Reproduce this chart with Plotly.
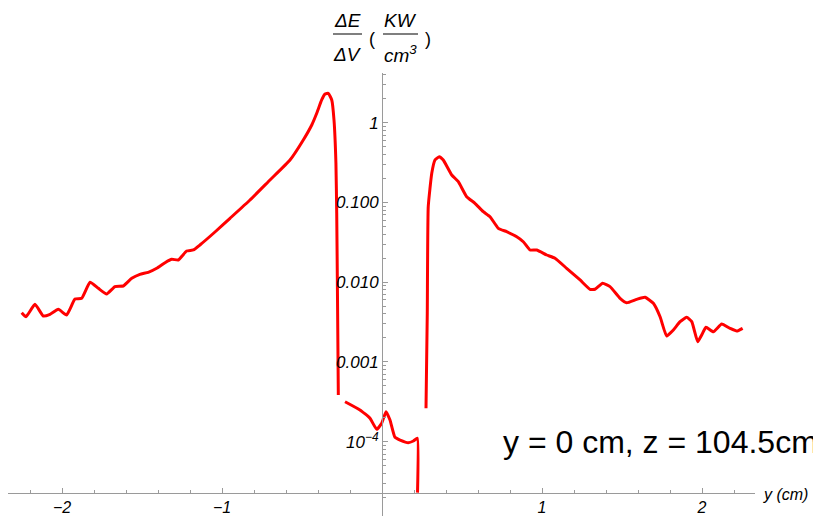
import plotly.graph_objects as go

# ---- data ----
left_x = [-2.252, -2.225, -2.169, -2.117, -2.075, -2.023, -1.971, -1.919, -1.877, -1.825,
          -1.773, -1.721, -1.669, -1.617, -1.564, -1.513, -1.461, -1.408, -1.356, -1.314,
          -1.273, -1.221, -1.179, -1.138, -1.044, -0.950, -0.825, -0.700, -0.575, -0.492,
          -0.439, -0.408, -0.377, -0.356, -0.336, -0.314, -0.300, -0.288, -0.283, -0.278, -0.273]
left_y = [0.00415, 0.00369, 0.00528, 0.00377, 0.00396, 0.00457, 0.00388, 0.00615, 0.00628, 0.00997,
          0.00838, 0.00711, 0.00879, 0.00896, 0.01119, 0.01256, 0.0133, 0.01494, 0.01757, 0.01937,
          0.01899, 0.0246, 0.02535, 0.0293, 0.0426, 0.0633, 0.1074, 0.1912, 0.3406, 0.6068,
          0.936, 1.312, 1.927, 2.29, 2.338, 1.927, 1.081, 0.3124, 0.0738, 0.00598, 0.000385]

mid_x = [-0.231, -0.138, -0.075, -0.033, -0.002, 0.025, 0.050, 0.081, 0.113, 0.164, 0.196, 0.221, 0.222]
mid_y = [3.17e-4, 2.50e-4, 1.965e-4, 1.43e-4, 1.70e-4, 2.377e-4, 1.871e-4, 1.135e-4, 1.05e-4,
         9.72e-5, 1.02e-4, 1.104e-4, 2.3e-5]

right_x = [0.275, 0.283, 0.289, 0.311, 0.331, 0.358, 0.383, 0.436, 0.477, 0.529,
           0.581, 0.633, 0.675, 0.727, 0.779, 0.842, 0.883, 0.925, 0.967, 1.029,
           1.081, 1.154, 1.238, 1.300, 1.331, 1.379, 1.425, 1.488, 1.529, 1.592,
           1.644, 1.696, 1.738, 1.779, 1.821, 1.863, 1.904, 1.936, 1.973, 1.998,
           2.025, 2.071, 2.123, 2.175, 2.217, 2.254]
right_y = [2.62e-4, 4.11e-3, 0.0885, 0.232, 0.3406, 0.375, 0.3406, 0.221, 0.182, 0.118,
           0.0976, 0.0766, 0.0663, 0.0474, 0.043, 0.0372, 0.0322, 0.02535, 0.02535, 0.02193,
           0.01995, 0.01494, 0.01066, 0.00815, 0.00815, 0.00969, 0.00879, 0.00628, 0.00553, 0.0061,
           0.00647, 0.00544, 0.00369, 0.00211, 0.00252, 0.0032, 0.00363, 0.0032, 0.00179, 0.00218,
           0.00272, 0.00239, 0.00299, 0.00264, 0.00244, 0.00264]

x_tickvals = [-2, -1, 1, 2]
x_ticktext = ["\u22122", "\u22121", "1", "2"]
y_tickvals = [1, 0.1, 0.01, 0.001, 1e-4]
y_ticktext = ["1", "0.100", "0.010", "0.001", "10<sup>\u22124</sup>"]

# ---- layout geometry (page pixels; the page body has an 8px margin) ----
OFF = 8
W, H = 821 - OFF, 516 - OFF
L, R, T, B = 8, 755, 73, 516          # plot area in page pixels
X_RANGE = [(L - 382) / 160, (R - 382) / 160]
def ylog(p):
    return -(p - 122.7) / 79.75
Y_RANGE = [ylog(B), ylog(T)]

def px(x):
    return (x - L) / (R - L)
def py(y):
    return (B - y) / (B - T)

FONT = "Liberation Sans, Arial, sans-serif"
RED = "#ff0000"
AX = "#9a9a9a"

fig = go.Figure()
for xs, ys in [(left_x, left_y), (mid_x, mid_y), (right_x, right_y)]:
    fig.add_trace(go.Scatter(x=xs, y=ys, mode="lines",
                             line=dict(color=RED, width=3, shape="spline", smoothing=0.4),
                             showlegend=False, hoverinfo="skip"))

minor_y = [k * 10 ** d for d in range(-5, 1) for k in range(2, 10)]
minor_x = [round(-2.2 + 0.2 * i, 2) for i in range(23)]

fig.update_layout(
    width=W, height=H,
    margin=dict(l=L - OFF, r=(821 - R), t=T - OFF, b=516 - B, autoexpand=False),
    paper_bgcolor="white", plot_bgcolor="white",
    xaxis=dict(range=X_RANGE, anchor="free", position=py(492.7), side="bottom",
               automargin=False,
               showline=True, linecolor=AX, linewidth=1, showgrid=False, zeroline=False,
               tickmode="array", tickvals=x_tickvals, ticktext=x_ticktext,
               ticks="inside", ticklen=5, tickcolor=AX, tickwidth=1,
               tickfont=dict(family=FONT, size=16, color="black", style="italic"),
               minor=dict(tickmode="array", tickvals=minor_x, ticks="inside", ticklen=3,
                          tickcolor=AX, showgrid=False)),
    yaxis=dict(type="log", range=Y_RANGE, anchor="free", position=px(382), side="left",
               automargin=False,
               showline=True, linecolor=AX, linewidth=1, showgrid=False, zeroline=False,
               tickmode="array", tickvals=y_tickvals, ticktext=y_ticktext,
               ticks="inside", ticklen=5, tickcolor=AX, tickwidth=1,
               tickfont=dict(family=FONT, size=17, color="black", style="italic"),
               minor=dict(tickmode="array", tickvals=minor_y, ticks="inside", ticklen=3,
                          tickcolor=AX, showgrid=False)),
)

def ann(text, x, y, size=19, italic=True, xanchor="center", yanchor="middle"):
    fig.add_annotation(text=text, x=px(x), y=py(y), xref="paper", yref="paper",
                       showarrow=False, xanchor=xanchor, yanchor=yanchor,
                       font=dict(family=FONT, size=size, color="black",
                                 style="italic" if italic else "normal"))

# y-axis label as fractions
ann("\u0394E", 347, 20)
ann("\u0394V", 347, 55)
ann("(", 372, 39, size=18, italic=False)
ann("KW", 400, 20)
ann("cm<sup>3</sup>", 400, 54)
ann(")", 428, 39, size=18, italic=False)
for x0, x1 in [(333, 362), (383, 418)]:
    fig.add_shape(type="line", xref="paper", yref="paper",
                  x0=px(x0), x1=px(x1), y0=py(34), y1=py(34),
                  line=dict(color="#555555", width=1.5))

# x-axis label
ann("y (cm)", 761, 494, size=16, xanchor="left")

# note
ann("y = 0 cm, z = 104.5cm", 820, 442, size=32, italic=False, xanchor="right")

fig.write_html("out.html")
